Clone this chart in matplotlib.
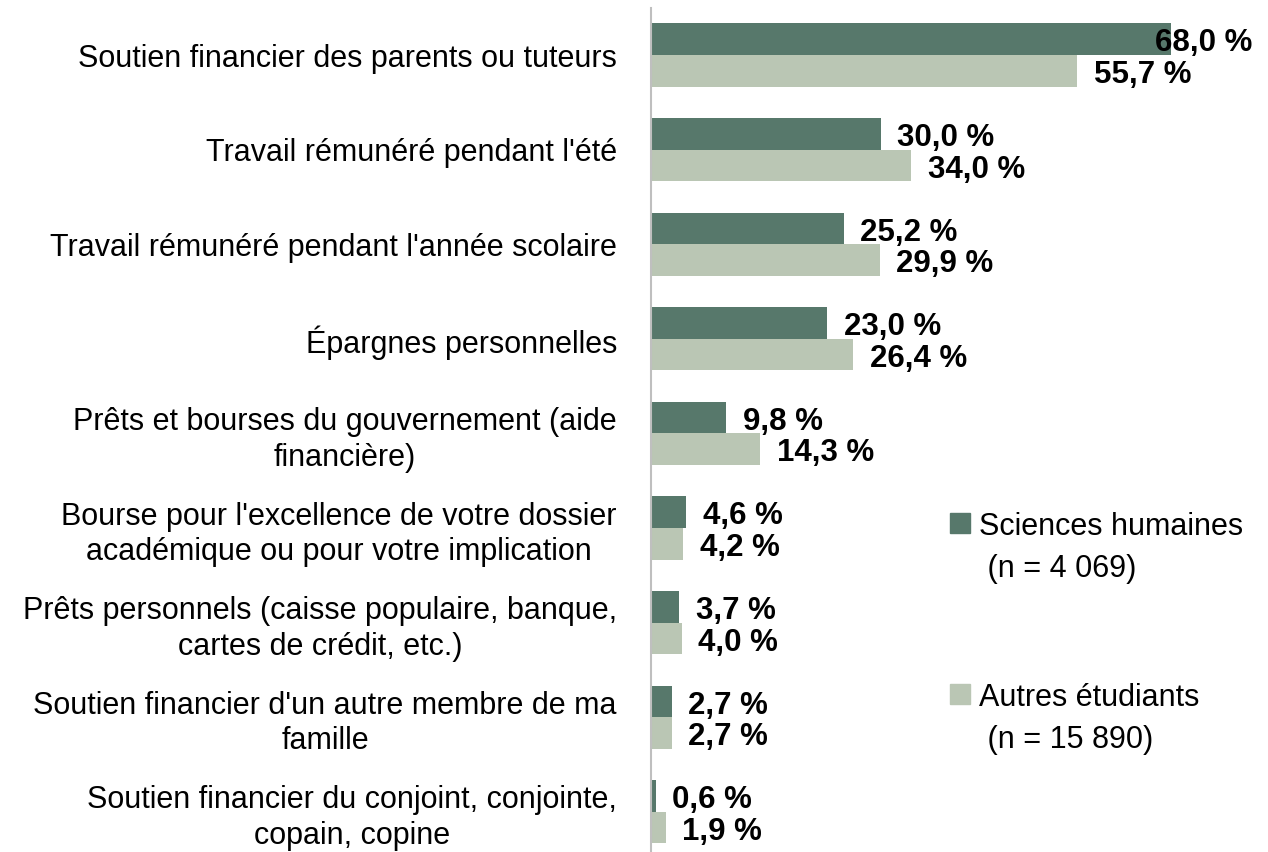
import matplotlib
matplotlib.use("Agg")
import matplotlib.pyplot as plt
from matplotlib.patches import Rectangle

categories = [
    "Soutien financier des parents ou tuteurs",
    "Travail rémunéré pendant l'été",
    "Travail rémunéré pendant l'année scolaire",
    "Épargnes personnelles",
    "Prêts et bourses du gouvernement (aide\nfinancière)",
    "Bourse pour l'excellence de votre dossier\nacadémique ou pour votre implication",
    "Prêts personnels (caisse populaire, banque,\ncartes de crédit, etc.)",
    "Soutien financier d'un autre membre de ma\nfamille",
    "Soutien financier du conjoint, conjointe,\ncopain, copine",
]
sciences_humaines = [68.0, 30.0, 25.2, 23.0, 9.8, 4.6, 3.7, 2.7, 0.6]
autres_etudiants = [55.7, 34.0, 29.9, 26.4, 14.3, 4.2, 4.0, 2.7, 1.9]
series_labels = [("Sciences humaines", " (n = 4 069)"),
                 ("Autres étudiants", " (n = 15 890)")]

DARK = "#57786B"
LIGHT = "#BAC6B4"

W, H = 1268, 852
fig = plt.figure(figsize=(W / 100, H / 100), dpi=100)

REG = "Liberation Sans"
BOLD = ["Liberation Sans Narrow", "Liberation Sans"]

ax = fig.add_axes([651 / W, 0, 600 / W, 844 / H])
n = len(categories)
pos = list(range(n))
bh = 1 / 3
ax.barh([p - bh / 2 for p in pos], sciences_humaines, height=bh, color=DARK)
ax.barh([p + bh / 2 for p in pos], autres_etudiants, height=bh, color=LIGHT)
ax.set_xlim(0, 600 / 7.65)
ax.set_ylim(8.425, -0.497)

for s in ["top", "right", "bottom"]:
    ax.spines[s].set_visible(False)
ax.spines["left"].set_color("#BFBFBF")
ax.spines["left"].set_linewidth(1.5)
ax.set_xticks([])
ax.set_yticks(pos)
ax.set_yticklabels(categories, family=REG, fontsize=22, multialignment="center",
                   linespacing=1.25)
ax.tick_params(axis="y", length=0, pad=24.5)


def fmt(v):
    return f"{v:.1f}".replace(".", ",") + " %"


texts = []
for vals, off in [(sciences_humaines, -bh / 2), (autres_etudiants, bh / 2)]:
    for p, v in zip(pos, vals):
        t = ax.annotate(fmt(v), xy=(v, p + off), xytext=(12, -3),
                        textcoords="offset points", ha="left", va="center",
                        family=BOLD, fontweight="bold", fontsize=22.5)
        texts.append(t)

fig.canvas.draw()
r = fig.canvas.get_renderer()
for t in texts:
    bb = t.get_window_extent(r)
    if bb.x1 > 1252:
        dx = (bb.x1 - 1252) * 72 / 100
        x0, y0 = t.xyann
        t.xyann = (x0 - dx, y0)

# legend
for (l1, l2), col, ytop in [(series_labels[0], DARK, 513), (series_labels[1], LIGHT, 684)]:
    fig.patches.append(Rectangle((950 / W, 1 - (ytop + 20) / H), 20 / W, 20 / H,
                                 transform=fig.transFigure, color=col))
    fig.text(979 / W, 1 - (ytop + 22) / H, l1, family=REG, fontsize=22, va="baseline")
    fig.text(979 / W, 1 - (ytop + 64) / H, l2, family=REG, fontsize=22, va="baseline")

fig.savefig("out.png", dpi=100, facecolor="white")
